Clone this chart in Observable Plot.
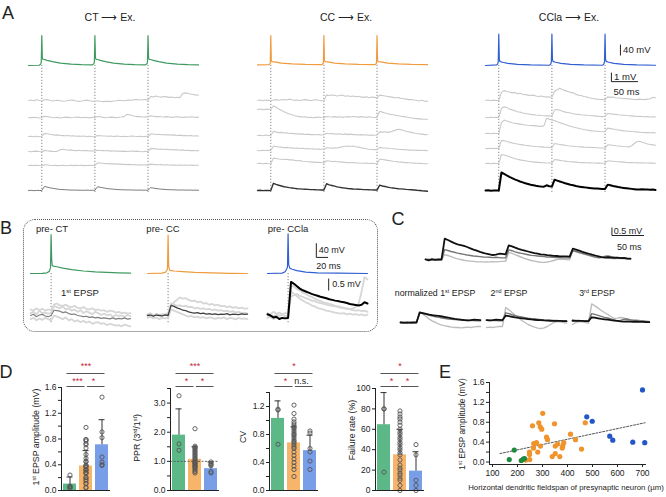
<!DOCTYPE html>
<html>
<head>
<meta charset="utf-8">
<script src="https://cdn.jsdelivr.net/npm/d3@7"></script>
<script src="https://cdn.jsdelivr.net/npm/@observablehq/plot@0.6"></script>
<style>
  html, body { margin: 0; padding: 0; background: #fff; }
  #fig { position: relative; width: 666px; height: 497px; overflow: hidden; background: #fff;
         font-family: "Liberation Sans", Arial, Helvetica, sans-serif; color: #222; }
  .lbl { position: absolute; white-space: nowrap; line-height: 1; }
  .lbl sup { font-size: 0.62em; line-height: 0; vertical-align: 0.55em; }
  #fig svg { overflow: visible; }
  .box { position: absolute; border: 1px dotted #555; border-radius: 12px; box-sizing: border-box; }
</style>
</head>
<body>
<div id="fig"></div>
<script>
// ================= DATA =================
// ---- Panel A: spike times (ms) and traces (5 ms samples, mV relative to baseline)
const spikeTimesA = [25, 125, 225];
const aSpikeCT = [[0,0],[20,1],[23,5],[24,12],[25,110],[26,30],[27,23],[30,22],[35,19],[45,14],[60,9],[80,5],[100,3],[120,2],[123,6],[124,13],[125,110],[126,30],[127,23],[130,22],[135,19],[145,14],[160,9],[180,5],[200,3],[220,2],[223,6],[224,13],[225,110],[226,30],[227,23],[230,22],[235,19],[245,14],[260,9],[280,5],[300,3],[320,2]];
const aSpikeCC = [[0,0],[22,1],[24,6],[25,108],[26,18],[27,12],[32,11],[45,7],[65,4],[90,2],[120,1],[122,2],[124,7],[125,108],[126,18],[127,12],[132,11],[145,7],[165,4],[190,2],[220,1],[222,2],[224,7],[225,108],[226,18],[227,12],[232,11],[245,7],[265,4],[290,2],[320,1]];
const aSpikeCCla = [[0,0],[21,2],[23,6],[24,14],[25,115],[26,24],[27,15],[32,12],[42,8],[60,4],[85,2],[120,1],[121,2],[123,6],[124,14],[125,115],[126,24],[127,15],[132,12],[142,8],[160,4],[185,2],[220,1],[221,2],[223,6],[224,14],[225,115],[226,24],[227,15],[232,12],[242,8],[260,4],[285,2],[320,1]];

const aCTgray = [
 [0,.05,-.03,.08,0, -.05,.08,.1,.02,-.05, 0,.03,-.02,-.08,-.05, 0,.05,.02,-.05,-.1, -.06,0,.04,-.02,-.08, -.1,-.02,-.08,-.12,-.1, -.08,-.12,-.05,-.02,.02, 0,-.03,.02,.06,.03, .1,.12,.05,.08,.1, .05,.45,.4,.5,.42, .38,.45,.4,.35,.38, .3,.36,.32,.78,.85, .8,.72,.66,.6,.62],
 [0,-.04,.03,0,-.05, 0,.15,.1,.05,0, -.03,.02,-.05,0,.04, .02,-.03,0,.05,.02, -.02,.03,0,-.04,.02, 0,.12,.08,.02,-.03, 0,.04,.02,-.02,.03, .05,.1,.35,.3,.22, .15,.1,.12,.05,.08, .05,.2,.15,.1,.12, .08,.05,.1,.06,.02, .05,.08,.04,.02,.06, .03,.08,.05,.02,.04],
 [0,.03,-.02,.02,-.03, 0,.35,.3,.25,.2, .15,.18,.12,.1,.08, .1,.05,.08,.03,.06, .02,.05,0,.03,-.02, 0,.1,.08,.05,.06, .02,.05,0,.04,.02, -.02,.03,0,.02,.05, .02,0,.03,-.02,.01, 0,.3,.28,.22,.25, .2,.22,.18,.2,.15, .18,.12,.15,.1,.12, .08,.1,.05,.08,.06],
 [0,-.03,.02,.05,0, -.02,.1,.08,.05,.02, 0,.05,.2,.25,.2, .15,.18,.12,.1,.14, .08,.1,.12,.06,.08, .05,.15,.12,.1,.08, .1,.05,.08,.04,.06, .02,.05,0,.03,.06, .02,.04,0,-.02,.02, 0,.35,.32,.3,.26, .28,.22,.25,.2,.22, .18,.2,.15,.18,.12, .15,.1,.12,.08,.1],
 [0,.02,-.02,.03,0, -.03,.08,.05,.02,0, .03,-.02,0,.02,-.03, 0,.03,-.02,.01,0, .02,-.02,0,.03,-.01, 0,.3,.28,.25,.2, .22,.18,.2,.15,.16, .12,.14,.1,.12,.08, .1,.06,.08,.05,.07, .04,.15,.12,.1,.08, .1,.06,.08,.05,.04, .06,.03,.05,.02,.04, .02,.04,.01,.03,.02]
];
const aCTavg = [0,.02,-.02,.01,0, 0,.45,.38,.3,.25, .2,.15,.12,.1,.08, .06,.05,.04,.05,.03, .03,.02,.04,.02,.03, .02,.42,.36,.3,.25, .2,.17,.14,.12,.1, .08,.08,.06,.07,.05, .05,.04,.05,.03,.04, .03,.32,.27,.22,.18, .15,.13,.1,.09,.08, .07,.06,.05,.06,.04, .05,.04,.03,.04,.03];

const aCCgray = [
 [0,.05,-.02,.06,.02, -.03,.05,.1,.02,.08, .12,.05,.15,.08,.02, .06,0,.05,.1,.04, -.02,.05,.08,.02,-.03, 0,.6,.55,.62,.58, .5,.55,.6,.48,.52, .45,.5,.42,.48,.4, .35,.42,.3,.38,.35, .3,.6,.55,.5,.45, .4,.35,.3,.32,.25, .2,.15,.1,.12,.05, 0,-.05,.02,-.08,-.1],
 [.9,.95,.88,.92,.9, .92,1.3,1.15,.95,.8, .65,.5,.4,.3,.2, .15,.1,.05,.08,0, .03,-.02,.02,.05,0, -.02,.12,.08,.05,.1, .04,.08,.02,.06,.1, .05,.12,.08,.04,.1, .06,.02,.08,.03,0, .02,.7,.6,.5,.42, .35,.3,.25,.2,.15, .1,.05,0,-.05,-.1, -.12,-.15,-.18,-.2,-.2],
 [0,.03,-.02,.05,0, .02,.45,.4,.32,.35, .28,.3,.22,.25,.18, .2,.15,.18,.12,.15, .1,.12,.08,.1,.05, .08,.25,.2,.22,.18, .15,.2,.12,.18,.1, .15,.1,.12,.06,.1, .05,.08,.02,.06,.03, .05,.4,.38,.42,.35, .4,.5,.6,.7,.65, .55,.48,.4,.35,.28, .22,.18,.15,.1,.12],
 [0,-.02,.03,0,.02, 0,.5,.45,.4,.38, .32,.35,.28,.3,.25, .28,.22,.25,.2,.22, .18,.2,.15,.18,.14, .15,.3,.28,.25,.3, .28,.35,.42,.48,.5, .45,.5,.42,.38,.3, .25,.2,.15,.12,.1, .08,.35,.3,.28,.25, .22,.2,.18,.15,.12, .1,.08,.05,.06,.03, .02,.04,0,.02,-.02],
 [0,.02,-.02,.03,0, -.02,.6,.55,.5,.48, .45,.48,.4,.42,.35, .3,.32,.25,.22,.2, .18,.15,.12,.14,.1, .08,.3,.28,.22,.25, .2,.18,.15,.12,.1, .08,.1,.05,.06,.03, .02,.04,0,.02,0, -.02,.5,.45,.4,.35, .3,.25,.22,.18,.15, .12,.1,.08,.05,.04, .02,.01,0,-.02,-.03]
];
const aCCavg = [0,.02,-.02,.01,0, -.01,.8,.68,.58,.5, .42,.38,.32,.28,.24, .2,.18,.15,.14,.12, .1,.1,.08,.07,.06, .05,.75,.62,.55,.48, .4,.35,.3,.26,.22, .2,.17,.15,.14,.12, .1,.1,.08,.07,.06, .05,.6,.5,.44,.38, .32,.28,.24,.2,.18, .15,.12,.1,.08,.05, .02,0,-.03,-.05,-.08];

const aCClagray = [
 [0,.05,-.03,.04,0, .02,.9,1.1,1.0,.95, .85,.9,.75,.8,.7, .65,.6,.55,.6,.5, .45,.5,.42,.4,.38, .4,1.0,1.2,1.35,1.2, 1.1,1.0,.9,.85,.7, .6,.55,.45,.4,.3, .25,.2,.15,.12,.1, .1,.4,.35,.38,.3, .28,.25,.2,.22,.18, .15,.12,.1,.15,.12, .1,.15,.2,.35,.3],
 [0,-.03,.03,0,.02, 0,1.0,1.2,1.1,.95, .85,.75,.65,.6,.5, .45,.4,.35,.32,.28, .25,.22,.2,.18,.2, .18,.85,.9,.8,.7, .6,.55,.5,.42,.38, .35,.3,.28,.25,.22, .2,.18,.15,.12,.1, .12,.45,.42,.38,.35, .3,.28,.25,.22,.2, .18,.15,.12,.14,.1, .08,.1,.06,.08,.05],
 [0,.03,-.02,.02,0, .02,1.2,1.5,1.4,1.3, 1.2,1.15,1.1,1.05,1.0, .95,.92,.9,.88,.85, .82,.8,.85,1.7,1.6, 1.5,1.45,1.3,1.2,1.1, 1.0,.9,.8,.72,.65, .58,.5,.45,.4,.35, .3,.28,.25,.22,.2, .2,.6,.55,.5,.45, .4,.35,.3,.28,.25, .22,.2,.18,.15,.12, .1,.12,.08,.1,.06],
 [0,-.02,.02,0,.03, 0,.9,.85,.78,.7, .62,.55,.5,.45,.4, .35,.32,.28,.25,.22, .2,.18,.15,.14,.12, .1,.55,.5,.45,.4, .35,.3,.28,.25,.22, .2,.18,.15,.14,.12, .1,.1,.08,.06,.05, .05,.4,.38,.35,.3, .28,.25,.22,.2,.18, .3,.55,.75,.8,.7, .6,.5,.45,.4,.35],
 [0,.02,-.03,.01,0, .01,1.0,.95,.85,.75, .65,.55,.48,.4,.35, .3,.25,.2,.18,.15, .12,.1,.08,.06,.05, .04,.45,.4,.35,.3, .26,.22,.2,.18,.15, .12,.1,.1,.08,.07, .06,.05,.04,.05,.03, .03,.3,.28,.25,.22, .2,.18,.15,.12,.1, .1,.08,.1,.06,.08, .05,.06,.04,.05,.03]
];
const aCClaavg = [0,.02,-.02,0,.01, 0,2.0,1.85,1.68,1.52, 1.38,1.24,1.12,1.0,.9, .8,.72,.64,.58,.52, .47,.44,.42,.58,.47, .44,1.2,1.1,1.0,.9, .8,.72,.64,.58,.5, .44,.4,.36,.32,.29, .26,.23,.21,.19,.17, .16,.65,.58,.5,.44, .38,.33,.29,.25,.21, .18,.15,.12,.1,.14, .12,.1,.08,.1,.06];

// ---- Panel B: single spike (ms, mV) and 1st EPSP traces (5 ms samples, mV)
const spikeTimeB = 35;
const bSpikeCT = [[0,0],[20,0.5],[28,2],[32,6],[34,16],[35,110],[36,40],[37,22],[39,21],[45,19],[55,15],[70,11],[90,7],[110,4.5],[130,3],[150,2],[170,1]];
const bSpikeCC = [[0,0],[25,1],[31,4],[33,10],[34,12],[35,108],[36,20],[38,9],[45,7],[60,5],[80,3],[110,1.5],[140,0.5],[170,0]];
const bSpikeCCla = [[0,0],[25,1],[30,5],[33,14],[34,19],[35,112],[36,25],[38,15],[42,12],[50,8],[65,4],[85,2],[120,1],[170,0]];
const bCTgray = [
 [.1,.15,.05,.2,.1,.12,.08,.1, .4,.35,.3,.38,.25,.3,.2,.25, .15,.22,.1,.18,.12,.05,.15,.1, .02,.08,0,.05,-.05,.02,-.02,0, -.05,.02,-.03],
 [-.15,-.1,-.2,-.12,-.18,-.1,-.15,-.2, 0,-.05,-.1,-.15,-.08,-.2,-.15,-.25, -.2,-.28,-.22,-.3,-.25,-.35,-.3,-.28, -.35,-.32,-.4,-.35,-.38,-.42,-.4,-.45, -.38,-.42,-.45],
 [.25,.2,.3,.22,.28,.2,.25,.22, .45,.5,.42,.4,.45,.38,.35,.4, .32,.3,.35,.28,.25,.3,.22,.25, .2,.22,.15,.2,.18,.12,.15,.1, .12,.08,.1]
];
const bCTavg = [0,.05,-.05,.02,.05,-.02,-.05,0, .22,.2,.18,.12,.15,.08,.05,.06, 0,-.02,-.05,-.03,-.08,-.06,-.1,-.08, -.12,-.1,-.12,-.14,-.1,-.15,-.12,-.14, -.1,-.15,-.13];
const bCCgray = [
 [.05,.1,0,.08,.02,.06,.05,.1, .4,.55,.65,.75,.7,.72,.65,.6, .62,.55,.58,.5,.52,.45,.48,.42, .45,.38,.4,.35,.38,.32,.35,.3, .33,.28,.3],
 [-.1,-.05,-.12,-.08,-.15,-.1,-.12,-.1, .25,.2,.15,.1,.05,0,-.05,-.02, -.08,-.05,-.1,-.06,-.12,-.08,-.1,-.14, -.1,-.12,-.08,-.15,-.1,-.12,-.16,-.1, -.14,-.12,-.15],
 [0,.05,-.02,.04,.02,0,.03,.02, .5,.45,.4,.42,.38,.4,.35,.36, .3,.32,.28,.3,.25,.28,.22,.25, .2,.22,.18,.2,.15,.18,.12,.15, .1,.12,.08]
];
const bCCavg = [0,.02,-.03,.02,0,-.02,.03,0, .42,.38,.32,.28,.22,.2,.15,.12, .1,.12,.08,.1,.06,.08,.05,.07, .04,.06,.05,.08,.03,.06,.05,.04, .07,.05,.06];
const bCClagray = [
 [.1,.05,.15,.08,.12,.05,.1,.08, 1.25,1.2,1.1,1.05,.95,.9,.82,.78, .7,.65,.6,.55,.52,.48,.45,.4, .38,.35,.32,.3,.28,.3,.35,.5, 1.0,1.6,1.5],
 [-.1,-.05,-.15,-.1,-.08,-.12,-.05,-.1, 1.0,.9,.8,.7,.62,.55,.5,.42, .38,.32,.28,.25,.2,.18,.15,.12, .1,.08,.1,.05,.08,.04,.06,.02, .05,0,.03],
 [0,.05,-.02,.03,0,.02,-.03,0, .8,.85,.9,.82,.78,.72,.68,.62, .6,.55,.52,.48,.45,.42,.4,.38, .35,.32,.3,.28,.25,.22,.2,.22, .18,.2,.15]
];
const bCClaavg = [.05,0,-.08,-.05,-.15,-.1,-.12,-.1, 1.4,1.32,1.22,1.12,1.05,1.0,.95,.9, .86,.82,.78,.75,.72,.68,.65,.62, .6,.57,.55,.52,.48,.46,.44,.42, .45,.55,.5];

// ---- Panel C: average traces (5 ms samples, mV), spikes at 25/125/225 ms
const cCT = [0,.02,-.02,0,.01, 0,.3,.25,.18,.1, .04,0,-.05,-.08,-.1, -.12,-.14,-.15,-.15,-.16, -.15,-.14,-.15,-.13,-.12, -.12,.45,.38,.3,.22, .14,.06,0,-.06,-.1, -.14,-.17,-.18,-.16,-.12, -.06,0,.03,.02,0, -.02,.56,.5,.43,.36, .3,.24,.18,.12,.13, .15,.14,.1,.06,.05, .08,.06,.04,.05,.03];
const cCC = [.02,0,-.03,.01,-.02, 0,.62,.56,.5,.45, .4,.36,.32,.28,.25, .22,.2,.18,.16,.15, .14,.12,.14,.12,.1, .1,.6,.55,.48,.42, .38,.34,.3,.26,.24, .22,.2,.18,.16,.15, .14,.12,.12,.1,.1, .1,.55,.5,.44,.38, .32,.28,.22,.16,.1, .12,.2,.22,.18,.15, .12,.1,.08,.06,.05];
const cCCla = [0,-.05,.02,-.03,0, 0,1.3,1.22,1.12,1.02, .95,.9,.85,.78,.7, .62,.55,.48,.42,.36, .32,.28,.3,.36,.35, .32,.88,.82,.74,.66, .6,.55,.5,.45,.4, .36,.32,.3,.27,.25, .23,.22,.2,.2,.19, .18,.68,.62,.55,.48, .42,.36,.3,.25,.2, .15,.12,.14,.12,.1, .12,.08,.1,.06,.05];

// ---- Panel D: group means, error-bar tops and individual points
const groups = ["CT", "CC", "CCla"];
const groupColors = ["#5cb887", "#f7b46b", "#799ee8"];
const ampMean = [0.10, 0.38, 0.71], ampErr = [0.21, 0.62, 1.10];
const pprMean = [1.90, 1.07, 0.75], pprErr = [2.80, 1.50, 0.98];
const cvMean = [1.03, 0.68, 0.57], cvErr = [1.28, 0.91, 0.79];
const failMean = [64.5, 35, 19], failErr = [96, 60, 38];
const pprPoints = [[3.25, 1.6, 1.38],
  [2.12, 1.52, 1.48, 1.45, 1.4, 1.35, 1.3, 1.25, 1.2, 1.15, 1.1, 1.05, 1.0, 0.98, 0.95, 0.92, 0.9, 0.85, 0.82, 0.8, 0.75, 0.7, 0.65, 0.6],
  [0.98, 0.92, 0.88, 0.85, 0.65, 0.6]];
const cvPoints = [[1.15, 1.16, 0.66],
  [1.22, 1.1, 1.02, 0.98, 0.95, 0.92, 0.9, 0.88, 0.85, 0.82, 0.8, 0.78, 0.75, 0.72, 0.7, 0.68, 0.65, 0.62, 0.6, 0.55, 0.5, 0.45, 0.4, 0.35, 0.3, 0.2],
  [0.85, 0.82, 0.6, 0.55, 0.42, 0.3]];
const failPoints = [[80, 80, 18],
  [78, 75, 72, 70, 67, 64, 60, 57, 55, 52, 50, 47, 45, 42, 40, 37, 35, 30, 25, 22, 20, 17, 15, 12, 10, 5, 0],
  [45, 35, 10, 5, 0]];
const sigAmp = [["CT","CCla","***",1],["CT","CC","***",2],["CC","CCla","*",2]];
const sigPPR = [["CT","CCla","***",1],["CT","CC","*",2],["CC","CCla","*",2]];
const sigCV = [["CT","CCla","*",1],["CT","CC","*",2],["CC","CCla","n.s.",2]];
const sigFail = [["CT","CCla","*",1],["CT","CC","*",2],["CC","CCla","*",2]];

// ---- Panel E: [fieldspan (µm), 1st EPSP amplitude (mV)]
const eGreen = [[167,0.05],[187,0.24],[215,0.03],[223,0.06],[228,0.07]];
const eOrange = [[301,0.98],[285,0.79],[260,0.73],[291,0.71],[297,0.66],[348,0.77],[471,0.79],[316,0.50],[320,0.45],[412,0.56],[432,0.45],[265,0.37],[276,0.39],[292,0.32],[264,0.28],[281,0.20],[248,0.20],[248,0.15],[249,0.05],[233,0.04],[361,0.36],[351,0.32],[385,0.39],[381,0.32],[379,0.28],[351,0.17],[339,0.11],[369,0.11],[456,0.26]];
const eBlue = [[477,0.91],[499,0.82],[569,0.52],[581,0.44],[661,0.40],[700,1.45],[709,0.39]];
const eFit = [[130,0.17],[710,0.79]];
const eXTicks = [100, 200, 300, 400, 500, 600, 700];

// ================= RENDER =================
const root = document.getElementById("fig");
const FONT = '"Liberation Sans", Arial, Helvetica, sans-serif';
const baseStyle = {fontFamily: FONT, fontSize: "8.5px", background: "transparent", overflow: "visible", color: "#222"};
function place(node, left, top) {
  node.style.position = "absolute"; node.style.left = left + "px"; node.style.top = top + "px";
  root.appendChild(node); return node;
}
function label(html, x, y, size, {anchor = "middle", rotate = false, color = "#222"} = {}) {
  const d = document.createElement("div");
  d.className = "lbl"; d.innerHTML = html;
  d.style.fontSize = size + "px"; d.style.color = color;
  let tr = anchor === "middle" ? "translate(-50%,-50%)" : anchor === "start" ? "translate(0,-50%)" : "translate(-100%,-50%)";
  if (rotate) tr += " rotate(-90deg)";
  d.style.transform = tr;
  place(d, x, y);
}
const series = (arr, dt, off = 0) => arr.map((v, i) => ({t: i * dt, v: v + off}));
const pairs = (arr, off, scale) => arr.map(([t, v]) => ({t, v: v * scale + off}));
const L = (d) => Plot.link(d, {x1: "x1", y1: "y1", x2: "x2", y2: "y2", stroke: "#222", strokeWidth: 1});
const T = (d, size = 9.5) => Plot.text(d, {x: "x", y: "y", text: "s", textAnchor: "start", fontSize: size, fill: "#222"});

// ---------- Panel A ----------
const A_Y = [-0.667, 17.78], A_SPK = 0.0303;
const aCols = [
  {left: 28, gray: aCTgray, avg: aCTavg, avgColor: "#7a7a7a", avgW: 1, spike: aSpikeCT, color: "#3f9a60", offsets: [10.0, 8.11, 6.0, 4.33, 2.78], base: 13.89},
  {left: 257, gray: aCCgray, avg: aCCavg, avgColor: "#333", avgW: 1.4, spike: aSpikeCC, color: "#ef9b3e", offsets: [10.0, 8.11, 6.11, 4.44, 3.0], base: 13.95},
  {left: 485, gray: aCClagray, avg: aCClaavg, avgColor: "#000", avgW: 2, spike: aSpikeCCla, color: "#2f5fd0", offsets: [10.0, 8.11, 6.33, 4.67, 3.0], base: 13.89,
   extra: [
     L([{x1: 254, y1: 15.0, x2: 254, y2: 15.0 + 40 * A_SPK}, {x1: 237, y1: 12.1, x2: 237, y2: 13.1}, {x1: 237, y1: 12.1, x2: 287, y2: 12.1}]),
     T([{x: 259, y: 15.6, s: "40 mV"}, {x: 242, y: 12.65, s: "1 mV"}, {x: 241, y: 10.9, s: "50 ms"}])
   ]}
];
for (const c of aCols) {
  const marks = [
    Plot.ruleX(spikeTimesA, {y1: -0.22, y2: c.base, stroke: "#666", strokeWidth: 0.8, strokeDasharray: "1.2,1.8"}),
    ...c.gray.map((arr, k) => Plot.line(series(arr, 5, c.offsets[k]), {x: "t", y: "v", stroke: "#c9c9c9", strokeWidth: 1.1})),
    Plot.line(series(c.avg, 5, 0), {x: "t", y: "v", stroke: c.avgColor, strokeWidth: c.avgW}),
    Plot.line(pairs(c.spike, c.base, A_SPK), {x: "t", y: "v", stroke: c.color, strokeWidth: 1.2}),
    ...(c.extra || [])
  ];
  place(Plot.plot({width: 170, height: 166, margin: 0, x: {domain: [0, 320], axis: null}, y: {domain: A_Y, axis: null}, style: baseStyle, marks}), c.left, 30);
}
label("A", 8, 13, 18);
label("CT ⟶ Ex.", 110, 17, 10.5);
label("CC ⟶ Ex.", 346, 17, 10.5);
label("CCla ⟶ Ex.", 569, 17, 10.5);

// ---------- Panel B ----------
const boxB = document.createElement("div"); boxB.className = "box";
boxB.style.width = "355px"; boxB.style.height = "113px"; place(boxB, 23, 219);
const B_Y = [-0.625, 3.708], B_SPK = 0.01477, B_BASE = 1.75;
const bCols = [
  {left: 30, gray: bCTgray, avg: bCTavg, avgColor: "#808080", avgW: 1.2, spike: bSpikeCT, color: "#3f9a60"},
  {left: 147, gray: bCCgray, avg: bCCavg, avgColor: "#404040", avgW: 1.3, spike: bSpikeCC, color: "#ef9b3e"},
  {left: 267, gray: bCClagray, avg: bCClaavg, avgColor: "#000", avgW: 2, spike: bSpikeCCla, color: "#2f5fd0",
   extra: [
     L([{x1: 83, y1: 2.42, x2: 83, y2: 2.42 + 40 * B_SPK}, {x1: 83, y1: 2.42, x2: 103, y2: 2.42}, {x1: 104, y1: 1.04, x2: 104, y2: 1.54}]),
     T([{x: 87, y: 2.72, s: "40 mV"}, {x: 83, y: 2.04, s: "20 ms"}, {x: 110, y: 1.29, s: "0.5 mV"}], 9)
   ]}
];
for (const c of bCols) {
  const marks = [
    Plot.ruleX([spikeTimeB], {y1: -0.3, y2: B_BASE, stroke: "#666", strokeWidth: 0.8, strokeDasharray: "1.2,1.8"}),
    ...c.gray.map(arr => Plot.line(series(arr, 5, 0), {x: "t", y: "v", stroke: "#d6d6d6", strokeWidth: 1.8})),
    Plot.line(series(c.avg, 5, 0), {x: "t", y: "v", stroke: c.avgColor, strokeWidth: c.avgW}),
    Plot.line(pairs(c.spike, B_BASE, B_SPK), {x: "t", y: "v", stroke: c.color, strokeWidth: 1.2}),
    ...(c.extra || [])
  ];
  place(Plot.plot({width: 100, height: 104, margin: 0, x: {domain: [0, 170], axis: null}, y: {domain: B_Y, axis: null}, style: baseStyle, marks}), c.left, 226);
}
label("B", 6, 228, 18);
label("pre- CT", 52, 229, 9.5);
label("pre- CC", 163, 229, 9.5);
label("pre- CCla", 288, 229, 9.5);
label("1<sup>st</sup> EPSP", 80, 293, 9.5);

// ---------- Panel C ----------
const cTraces = [{d: cCT, stroke: "#bdbdbd", w: 1.4}, {d: cCC, stroke: "#777", w: 1.4}, {d: cCCla, stroke: "#111", w: 1.8}];
place(Plot.plot({width: 205, height: 44, margin: 0, x: {domain: [0, 320], axis: null}, y: {domain: [-0.4375, 2.3125], axis: null}, style: baseStyle,
  marks: [
    ...cTraces.map(c => Plot.line(series(c.d, 5, 0), {x: "t", y: "v", stroke: c.stroke, strokeWidth: c.w})),
    L([{x1: 291, y1: 1.5, x2: 291, y2: 2.0}, {x1: 291, y1: 1.5, x2: 341, y2: 1.5}]),
    T([{x: 294, y: 1.78, s: "0.5 mV"}, {x: 299, y: 0.75, s: "50 ms"}], 9)
  ]}), 425, 222);
const cSeg = (trace, k) => trace.slice(20 * k, 20 * k + 26).map((v, i) => ({t: i * 5, v: v / trace[6]}));
[400, 486, 572].forEach((left, k) => {
  place(Plot.plot({width: 80, height: 36, margin: 0, x: {domain: [0, 125], axis: null}, y: {domain: [-1.2, 2.4], axis: null}, style: baseStyle,
    marks: cTraces.map(c => Plot.line(cSeg(c.d, k), {x: "t", y: "v", stroke: c.stroke, strokeWidth: c.w}))}), left, 298);
});
label("C", 398, 219, 18);
label("normalized 1<sup>st</sup> EPSP", 435, 293, 8.8);
label("2<sup>nd</sup> EPSP", 509, 293, 8.8);
label("3<sup>rd</sup> EPSP", 597, 293, 8.8);

// ---------- Panel D ----------
const dCharts = [
  {axisX: 61, top: 387, ymax: 1.6, ticks: [0, 0.4, 0.8, 1.2, 1.6], minor: [0.2, 0.6, 1.0, 1.4], fmt: ".1f", mean: ampMean, err: ampErr,
   points: [eGreen.map(d => d[1]), eOrange.map(d => d[1]), eBlue.map(d => d[1])], sig: sigAmp},
  {axisX: 170, top: 388, ymax: 3.5, ticks: [0, 1, 2, 3], minor: [0.5, 1.5, 2.5, 3.5], fmt: ".1f", mean: pprMean, err: pprErr, points: pprPoints, sig: sigPPR, ref: 1},
  {axisX: 269, top: 392, ymax: 1.4, ticks: [0, 0.4, 0.8, 1.2], minor: [0.2, 0.6, 1.0, 1.4], fmt: ".1f", mean: cvMean, err: cvErr, points: cvPoints, sig: sigCV},
  {axisX: 375, top: 388, ymax: 100, ticks: [0, 20, 40, 60, 80, 100], minor: [], fmt: "d", mean: failMean, err: failErr, points: failPoints, sig: sigFail}
];
for (const c of dCharts) {
  const k = c.ymax / (490 - c.top);
  const yAt = px => c.ymax + (c.top - px) * k;
  const bars = groups.map((g, i) => ({g, mean: c.mean[i], err: c.err[i]}));
  const pts = c.points.flatMap((arr, i) => arr.map(v => ({g: groups[i], v})));
  const sig = c.sig.map(([a, b, s, row]) => ({a, b, s, row, yl: yAt(row === 1 ? 373 : 386), yt: yAt(row === 1 ? 366 : 381)}));
  const sigLine = (f, il, ir) => Plot.ruleY(sig.filter(f), {x1: "a", x2: "b", y: "yl", stroke: "#555", strokeWidth: 1, insetLeft: il, insetRight: ir});
  const marks = [
    Plot.barY(bars, {x: "g", y: "mean", fill: "g"}),
    Plot.ruleX(bars, {x: "g", y1: "mean", y2: "err", stroke: "#333", strokeWidth: 1}),
    Plot.tickY(bars, {x: "g", y: "err", stroke: "#333", strokeWidth: 1, insetLeft: 3.5, insetRight: 3.5}),
    Plot.dot(pts, {x: "g", y: "v", r: 2.1, stroke: "#555", strokeWidth: 0.9, fill: "none"}),
    Plot.frame({anchor: "left", stroke: "#222"}),
    Plot.frame({anchor: "bottom", stroke: "#222"}),
    Plot.axisY({ticks: c.ticks, tickFormat: c.fmt, tickSize: 3, tickPadding: 2, label: null}),
    Plot.axisY({ticks: c.minor, tickFormat: () => "", tickSize: 3, label: null}),
    sigLine(s => s.row === 1, 3.5, 3.5),
    sigLine(s => s.row === 2 && s.a === "CT", 3.5, 7.5),
    sigLine(s => s.row === 2 && s.a === "CC", 8, 3.5),
    Plot.text(sig.filter(s => s.row === 1), {x: "b", text: "s", y: "yt", dx: -16, fill: "#c8253c", fontSize: 9}),
    Plot.text(sig.filter(s => s.row === 2), {x: "a", text: "s", y: "yt", dx: 7.5, fill: s => s.s === "n.s." ? "#222" : "#c8253c", fontSize: 9})
  ];
  if (c.ref !== undefined) marks.splice(4, 0, Plot.ruleY([c.ref], {stroke: "#555", strokeDasharray: "2,1.5", strokeWidth: 0.9}));
  place(Plot.plot({width: 82, height: 148, marginLeft: 30, marginRight: 4, marginTop: c.top - 347, marginBottom: 5,
    x: {domain: groups, paddingInner: 0.2, paddingOuter: 0.08, axis: null},
    y: {domain: [0, c.ymax], label: null},
    color: {domain: groups, range: groupColors},
    style: baseStyle, marks}), c.axisX - 30, 347);
}
label("D", 6, 372, 18);
label("1<sup>st</sup> EPSP amplitude (mV)", 36, 437, 8.8, {rotate: true});
label("PPR (3<sup>rd</sup>/1<sup>st</sup>)", 137, 438, 8.8, {rotate: true});
label("CV", 243, 437, 8.8, {rotate: true});
label("Failure rate (%)", 352, 430, 8.8, {rotate: true});

// ---------- Panel E ----------
const eDots = (d, fill) => Plot.dot(d, {x: d => d[0], y: d => d[1], r: 2.6, fill, stroke: "none"});
place(Plot.plot({width: 190, height: 105, marginLeft: 28, marginRight: 6, marginTop: 5, marginBottom: 18,
  x: {domain: [88, 712], label: null}, y: {domain: [-0.05, 1.6], label: null}, style: baseStyle,
  marks: [
    Plot.frame({anchor: "left", stroke: "#222"}),
    Plot.frame({anchor: "bottom", stroke: "#222"}),
    Plot.axisX({ticks: eXTicks, tickSize: 3, tickPadding: 2, label: null}),
    Plot.axisY({ticks: [0, 0.4, 0.8, 1.2, 1.6], tickFormat: ".1f", tickSize: 3, tickPadding: 2, label: null}),
    Plot.axisY({ticks: [0.2, 0.6, 1.0, 1.4], tickFormat: () => "", tickSize: 3, label: null}),
    Plot.line(eFit, {x: d => d[0], y: d => d[1], stroke: "#555", strokeWidth: 1, strokeDasharray: "2,1.5"}),
    eDots(eOrange, "#f0932b"),
    eDots(eGreen, "#1e8a3e"),
    eDots(eBlue, "#2356c9")
  ]}), 461, 377);
label("E", 445, 372, 18);
label("1<sup>st</sup> EPSP amplitude (mV)", 462, 424, 8.3, {rotate: true});
label("Horizontal dendritic fieldspan of presynaptic neuron (µm)", 566, 488, 7.8);
</script>
</body>
</html>
